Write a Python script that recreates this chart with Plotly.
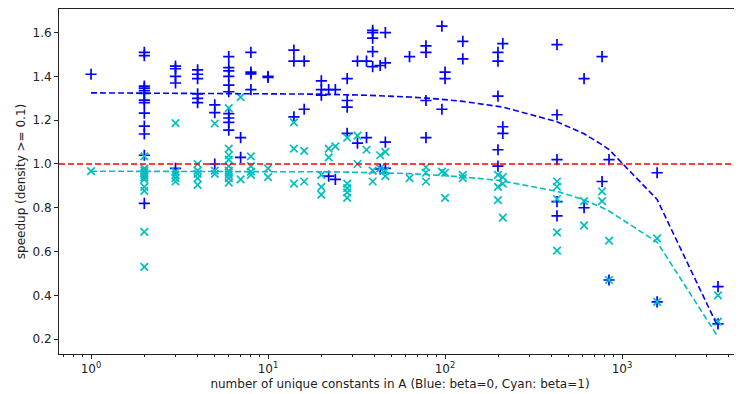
import plotly.graph_objects as go

# ---- data ----
blue_pts = {
    1: [1.41],
    2: [1.51, 1.495, 1.356, 1.347, 1.335, 1.323, 1.292, 1.28, 1.232, 1.173, 1.137, 1.04, 0.82],
    3: [1.447, 1.435, 1.40, 1.37, 0.98],
    4: [1.43, 1.41, 1.39, 1.32, 1.30, 1.28],
    5: [1.27, 1.235, 1.00],
    6: [1.49, 1.44, 1.425, 1.40, 1.36, 1.33, 1.23, 1.21, 1.19, 1.155],
    7: [1.12, 1.03],
    8: [1.51, 1.42, 1.412, 1.34],
    10: [1.40, 1.395],
    14: [1.52, 1.47, 1.215],
    16: [1.47, 1.25],
    20: [1.38, 1.34, 1.315],
    22: [1.34, 0.945],
    24: [1.34, 0.93],
    28: [1.39, 1.29, 1.26, 1.14],
    32: [1.47, 1.095],
    36: [1.47, 1.12],
    39: [1.61, 1.60, 1.575, 1.513, 1.445],
    43: [1.45, 0.977],
    46: [1.60, 1.462, 1.10, 0.98],
    63: [1.49],
    78: [1.54, 1.51, 1.29, 1.12],
    96: [1.63, 1.25],
    100: [1.42, 1.39],
    126: [1.56, 1.48],
    199: [1.51, 1.47, 1.31, 1.065, 0.99],
    212: [1.55, 1.17, 1.14],
    429: [1.545, 1.225, 1.02, 0.828, 0.763],
    610: [1.39, 0.80],
    771: [1.49, 0.92],
    844: [1.02, 0.47],
    1578: [0.96, 0.37],
    3484: [0.44, 0.27],
}
cyan_pts = {
    1: [0.967],
    2: [1.035, 0.98, 0.97, 0.96, 0.95, 0.94, 0.93, 0.895, 0.877, 0.69, 0.53],
    3: [1.187, 0.965, 0.95, 0.935, 0.92],
    4: [1.00, 0.97, 0.955, 0.935, 0.905],
    5: [1.185, 0.97, 0.955],
    6: [1.255, 1.07, 1.04, 1.02, 0.99, 0.97, 0.96, 0.95, 0.935, 0.915],
    7: [1.305, 0.93],
    8: [1.035, 0.99, 0.965, 0.95],
    10: [0.98, 0.94],
    14: [1.19, 1.07, 0.91],
    16: [1.06, 0.92],
    20: [0.95, 0.895, 0.86],
    22: [1.07, 1.03],
    24: [1.08],
    28: [1.12, 0.91, 0.89, 0.87, 0.845],
    32: [1.13, 1.00],
    36: [1.065],
    39: [0.97, 0.92],
    43: [1.04, 0.98],
    46: [1.055, 0.97, 0.945],
    63: [0.935],
    78: [0.985, 0.96, 0.92],
    96: [0.965],
    100: [0.96, 0.845],
    126: [0.95, 0.935],
    199: [0.95, 0.895, 0.835],
    212: [0.94, 0.91, 0.755],
    429: [0.92, 0.896, 0.84, 0.688, 0.604],
    610: [0.83, 0.72],
    771: [0.875, 0.83],
    844: [0.65, 0.47],
    1578: [0.66, 0.37],
    3484: [0.40, 0.28],
}

trend_x = [1, 2, 3, 4, 5, 6, 7, 8, 10, 14, 16, 20, 22, 24, 28, 32, 36, 39, 43, 46,
           63, 78, 96, 100, 126, 199, 212, 429, 610, 771, 844, 1578, 3484]
trend_blue = [1.325, 1.324, 1.324, 1.324, 1.323, 1.323, 1.323, 1.322, 1.322, 1.321,
              1.320, 1.319, 1.318, 1.318, 1.316, 1.315, 1.314, 1.313, 1.312, 1.311,
              1.306, 1.301, 1.296, 1.294, 1.286, 1.264, 1.260, 1.193, 1.138, 1.088,
              1.066, 0.838, 0.255]
trend_cyan = [0.967, 0.967, 0.967, 0.967, 0.967, 0.966, 0.966, 0.966, 0.966, 0.965,
              0.965, 0.964, 0.964, 0.964, 0.963, 0.962, 0.961, 0.961, 0.960, 0.959,
              0.956, 0.952, 0.948, 0.947, 0.941, 0.925, 0.922, 0.875, 0.836, 0.801,
              0.785, 0.643, 0.210]

x_tick_vals = [1, 10, 100, 1000]
x_tick_text = ["10<sup>0</sup>", "10<sup>1</sup>", "10<sup>2</sup>", "10<sup>3</sup>"]
y_tick_vals = [0.2, 0.4, 0.6, 0.8, 1.0, 1.2, 1.4, 1.6]
minor_vals = [m * 10 ** e for e in range(-1, 4) for m in range(2, 10)]

bx = [k for k, v in blue_pts.items() for _ in v]
by = [y for v in blue_pts.values() for y in v]
cx = [k for k, v in cyan_pts.items() for _ in v]
cy = [y for v in cyan_pts.values() for y in v]

BLUE = "#0000ff"
CYAN = "#00bfbf"
DASH = "6px,3px"

fig = go.Figure()
fig.add_trace(go.Scatter(x=bx, y=by, mode="markers",
                         marker=dict(symbol="cross-thin", size=8, color=BLUE,
                                     line=dict(color=BLUE, width=1.7))))
fig.add_trace(go.Scatter(x=cx, y=cy, mode="markers",
                         marker=dict(symbol="x-thin", size=7.5, color=CYAN,
                                     line=dict(color=CYAN, width=1.7))))
fig.add_trace(go.Scatter(x=trend_x, y=trend_blue, mode="lines",
                         line=dict(color=BLUE, width=1.6, dash=DASH)))
fig.add_trace(go.Scatter(x=trend_x, y=trend_cyan, mode="lines",
                         line=dict(color=CYAN, width=1.6, dash=DASH)))

fig.add_shape(type="line", xref="paper", yref="y", x0=0, x1=1, y0=1.0, y1=1.0,
              line=dict(color="#ff0000", width=1.6, dash=DASH))

# the page adds an 8px body margin, so the figure is sized to fill the rest
font = dict(family="DejaVu Sans", size=12, color="#222222")
fig.update_layout(
    width=734, height=386,
    margin=dict(l=51, r=1, t=1, b=40),
    paper_bgcolor="white", plot_bgcolor="white",
    showlegend=False,
    font=font,
    xaxis=dict(type="log", range=[-0.181, 3.672], automargin=False,
               tickmode="array", tickvals=x_tick_vals, ticktext=x_tick_text,
               ticks="outside", ticklen=4, tickwidth=1, tickcolor="#222",
               showline=True, linecolor="#222", linewidth=1, mirror=True,
               showgrid=False, zeroline=False,
               minor=dict(tickmode="array", tickvals=minor_vals, ticks="outside",
                          ticklen=2, tickwidth=0.8, tickcolor="#222", showgrid=False),
               title=dict(text="number of unique constants in A (Blue: beta=0, Cyan: beta=1)",
                          font=font, standoff=4)),
    yaxis=dict(range=[0.132, 1.708], automargin=False,
               tickmode="array", tickvals=y_tick_vals, tickformat=".1f",
               ticks="outside", ticklen=4, tickwidth=1, tickcolor="#222",
               showline=True, linecolor="#222", linewidth=1, mirror=True,
               showgrid=False, zeroline=False,
               title=dict(text="speedup (density >= 0.1)", font=font, standoff=4)),
)

fig.write_html("out.html")
